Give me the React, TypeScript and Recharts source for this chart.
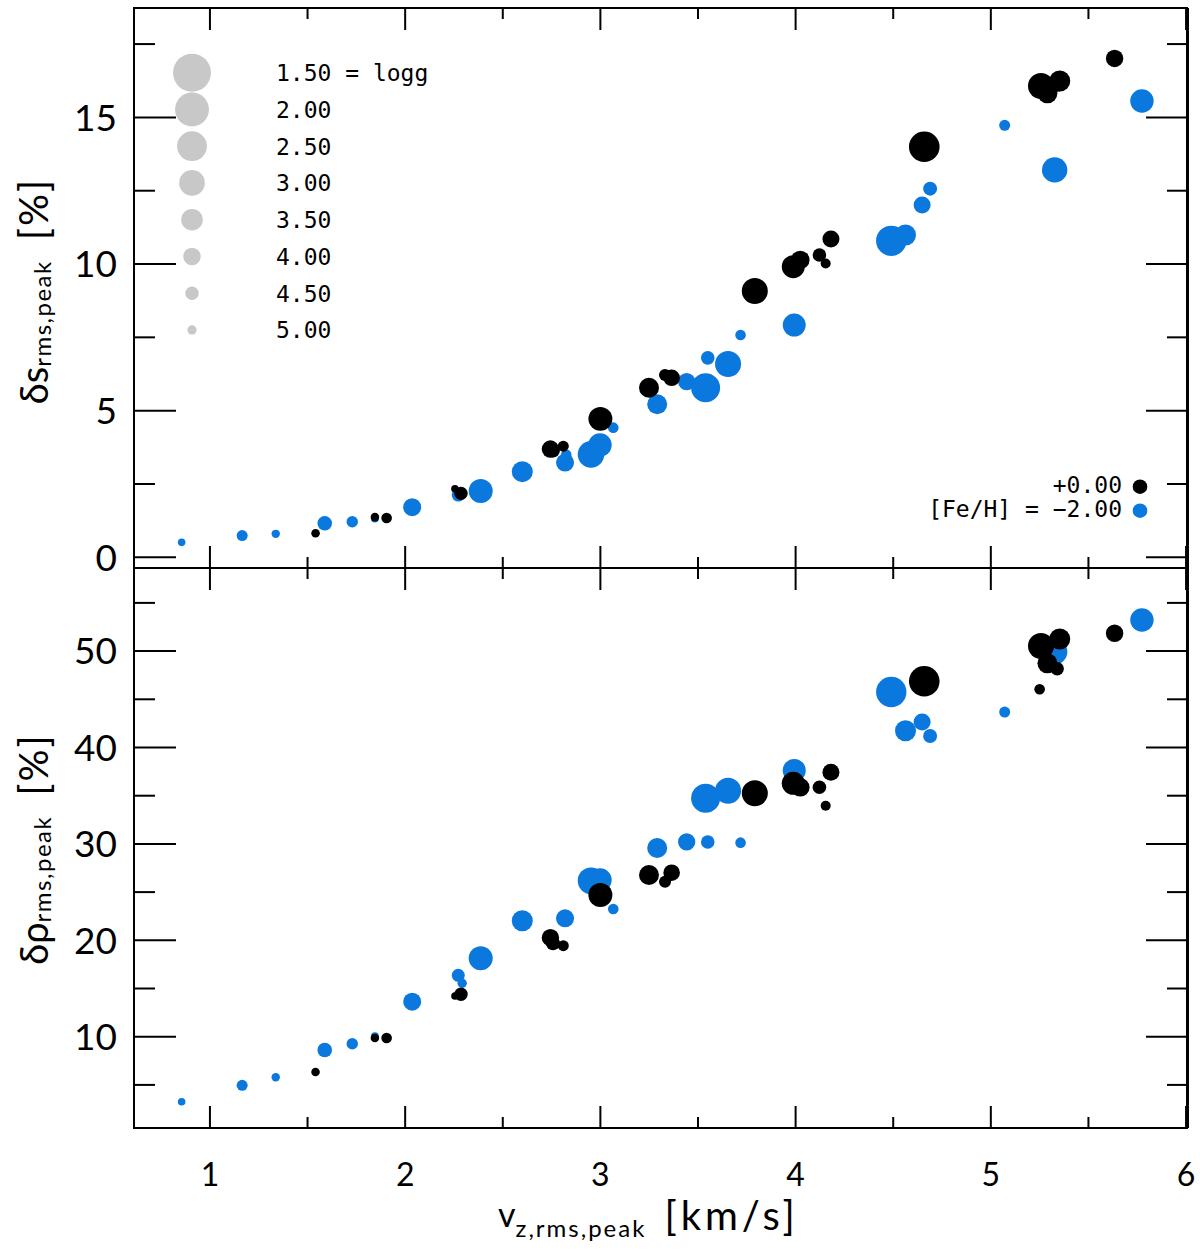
import React from 'react';
import { ScatterChart, Scatter, XAxis, YAxis } from 'recharts';

// ---- data: [Fe/H] = -2.00 (blue) ----
const vzBlue = [0.855, 1.165, 1.337, 1.588, 1.729, 1.845, 2.036, 2.272, 2.292, 2.387, 2.600, 2.819, 2.825, 2.952, 2.998, 3.066, 3.291, 3.442, 3.539, 3.550, 3.654, 3.718, 3.993, 4.490, 4.563, 4.648, 4.689, 5.071, 5.327, 5.774];
const dsBlue = [0.51, 0.74, 0.80, 1.16, 1.21, 1.32, 1.71, 2.12, 2.20, 2.26, 2.92, 3.23, 3.50, 3.51, 3.83, 4.42, 5.22, 5.99, 5.78, 6.80, 6.59, 7.58, 7.92, 10.79, 10.99, 12.01, 12.57, 14.73, 13.21, 15.56];
const drhoBlue = [3.26, 4.96, 5.79, 8.62, 9.27, 10.05, 13.63, 16.37, 15.54, 18.13, 22.03, 22.28, 22.2, 26.18, 26.25, 23.25, 29.57, 30.20, 34.73, 30.20, 35.52, 30.13, 37.62, 45.76, 41.74, 42.65, 41.19, 43.68, 49.94, 53.23];
const loggBlue = [5.21, 4.79, 5.11, 4.36, 4.74, 5.16, 3.94, 4.55, 4.99, 3.21, 3.57, 3.94, 4.84, 2.89, 3.28, 4.84, 3.70, 4.03, 2.60, 4.48, 2.96, 4.84, 3.33, 2.43, 3.57, 4.06, 4.43, 4.79, 3.04, 3.28];

// ---- data: [Fe/H] = +0.00 (black) ----
const vzBlack = [1.541, 1.845, 1.905, 2.255, 2.286, 2.744, 2.757, 2.810, 3.000, 3.249, 3.331, 3.365, 3.791, 3.988, 4.024, 4.122, 4.154, 4.181, 4.659, 5.257, 5.250, 5.290, 5.340, 5.353, 5.634];
const dsBlack = [0.82, 1.37, 1.34, 2.34, 2.18, 3.69, 3.64, 3.79, 4.72, 5.78, 6.22, 6.12, 9.08, 9.91, 10.14, 10.31, 10.02, 10.85, 14.00, 16.07, 15.95, 15.82, 16.10, 16.24, 17.01];
const drhoBlack = [6.34, 9.87, 9.87, 14.22, 14.40, 20.27, 19.69, 19.44, 24.70, 26.77, 26.08, 27.01, 35.25, 36.29, 35.87, 35.87, 33.96, 37.43, 46.87, 50.53, 46.04, 48.73, 48.17, 51.25, 51.85];
const loggBlack = [5.09, 5.09, 4.84, 5.21, 4.50, 4.01, 4.43, 4.79, 3.21, 3.70, 4.67, 4.11, 2.96, 3.33, 3.87, 4.48, 4.91, 4.06, 2.40, 2.96, 4.84, 3.70, 4.50, 3.57, 4.01];

// ---- ticks / legend ----
const xMajor = [1, 2, 3, 4, 5, 6];
const xMinor = [1.5, 2.5, 3.5, 4.5, 5.5];
const dsMajor = [0, 5, 10, 15];
const dsMinor = [2.5, 7.5, 12.5, 17.5];
const drhoMajor = [10, 20, 30, 40, 50];
const drhoMinor = [5, 15, 25, 35, 45, 55];
const loggLegend = [1.5, 2.0, 2.5, 3.0, 3.5, 4.0, 4.5, 5.0];
const fehLegend = ['+0.00', '[Fe/H] = \u22122.00'];

const BLUE = '#0a78dc';
const BLACK = '#000000';
const GRAY = '#c8c8c8';
const FONT = 'Lato, "DejaVu Sans", sans-serif';
const MONO = '"DejaVu Sans Mono", monospace';

const radiusOf = (g: number) => 25.15 - 4.1 * g;

const blueRows = vzBlue.map((vz, i) => ({ vz, ds: dsBlue[i], drho: drhoBlue[i], logg: loggBlue[i] }));
const blackRows = vzBlack.map((vz, i) => ({ vz, ds: dsBlack[i], drho: drhoBlack[i], logg: loggBlack[i] }));

const makeShape = (color: string) => (props: any) => {
  const { cx, cy, payload } = props;
  if (cx == null || cy == null) return <g />;
  return <circle cx={cx} cy={cy} r={radiusOf(payload.logg)} fill={color} />;
};
const blueShape = makeShape(BLUE);
const blackShape = makeShape(BLACK);

type Side = 'left' | 'right' | 'top' | 'bottom';

const makeTick = (side: Side, majors: number[], showLabel: boolean, fontSize: number) => (props: any) => {
  const { x, y, payload } = props;
  const v = payload.value;
  const major = majors.indexOf(v) >= 0;
  const horiz = side === 'top' || side === 'bottom';
  const len = horiz ? (major ? 22 : 11) : (major ? 42 : 21);
  let x2 = x, y2 = y;
  if (side === 'left') x2 = x + len;
  if (side === 'right') x2 = x - len;
  if (side === 'top') y2 = y + len;
  if (side === 'bottom') y2 = y - len;
  return (
    <g>
      <line x1={x} y1={y} x2={x2} y2={y2} stroke="#000" strokeWidth={2} />
      {showLabel && major && side === 'left' && (
        <text x={x - 17} y={y} dy="0.36em" textAnchor="end" fontFamily={FONT} fontSize={fontSize} fill="#000">
          {String(v)}
        </text>
      )}
      {showLabel && major && side === 'bottom' && (
        <text x={x} y={y + 58} textAnchor="middle" fontFamily={FONT} fontSize={fontSize} fill="#000">
          {String(v)}
        </text>
      )}
    </g>
  );
};

const axisLine = { stroke: '#000', strokeWidth: 2 };
const xDomain: [number, number] = [0.611, 6.01];

function Panel(props: {
  yKey: string;
  yDomain: [number, number];
  yMajor: number[];
  yMinor: number[];
  height: number;
  margin: any;
  xLabels: boolean;
}) {
  const { yKey, yDomain, yMajor, yMinor, height, margin, xLabels } = props;
  const xt = [...xMajor, ...xMinor];
  const yt = [...yMajor, ...yMinor];
  return (
    <ScatterChart width={1200} height={height} margin={margin}>
      <XAxis xAxisId="b" dataKey="vz" type="number" orientation="bottom" domain={xDomain} allowDataOverflow
        ticks={xt} interval={0} height={1} tickSize={0} tickMargin={0} tickLine={false} axisLine={axisLine}
        tick={makeTick('bottom', xMajor, xLabels, 32)} />
      <XAxis xAxisId="t" dataKey="vz" type="number" orientation="top" domain={xDomain} allowDataOverflow
        ticks={xt} interval={0} height={1} tickSize={0} tickMargin={0} tickLine={false} axisLine={axisLine}
        tick={makeTick('top', xMajor, false, 32)} />
      <YAxis yAxisId="l" dataKey={yKey} type="number" orientation="left" domain={yDomain} allowDataOverflow
        ticks={yt} interval={0} width={1} tickSize={0} tickMargin={0} tickLine={false} axisLine={axisLine}
        tick={makeTick('left', yMajor, true, 37)} />
      <YAxis yAxisId="r" dataKey={yKey} type="number" orientation="right" domain={yDomain} allowDataOverflow
        ticks={yt} interval={0} width={1} tickSize={0} tickMargin={0} tickLine={false} axisLine={axisLine}
        tick={makeTick('right', yMajor, false, 37)} />
      <Scatter data={blueRows} xAxisId="b" yAxisId="l" isAnimationActive={false} shape={blueShape} />
      <Scatter data={blackRows} xAxisId="b" yAxisId="l" isAnimationActive={false} shape={blackShape} />
    </ScatterChart>
  );
}

export default function App() {
  return (
    <div style={{ position: 'absolute', left: 0, top: 0, width: 1200, height: 1250, background: '#fff' }}>
      <div style={{ position: 'absolute', left: 0, top: 0 }}>
        <Panel yKey="ds" yDomain={[-0.365, 18.73]} yMajor={dsMajor} yMinor={dsMinor} height={580}
          margin={{ top: 7, right: 11, bottom: 11, left: 133 }} xLabels={false} />
      </div>
      <div style={{ position: 'absolute', left: 0, top: 560 }}>
        <Panel yKey="drho" yDomain={[0.53, 58.62]} yMajor={drhoMajor} yMinor={drhoMinor} height={690}
          margin={{ top: 7, right: 11, bottom: 121, left: 133 }} xLabels={true} />
      </div>
      <svg width={1200} height={1250} style={{ position: 'absolute', left: 0, top: 0, pointerEvents: 'none' }}>
        {/* panel frames */}
        <rect x={134} y={8} width={1053} height={560} fill="none" stroke="#000" strokeWidth={2} />
        <rect x={134} y={568} width={1053} height={560} fill="none" stroke="#000" strokeWidth={2} />
        {/* logg size legend */}
        {loggLegend.map((g, i) => (
          <g key={g}>
            <circle cx={192} cy={72.7 + i * 36.75} r={radiusOf(g)} fill={GRAY} />
            <text x={276} y={81.2 + i * 36.75} fontFamily={MONO} fontSize={23} fill="#000">
              {g.toFixed(2) + (i === 0 ? ' = logg' : '')}
            </text>
          </g>
        ))}
        {/* [Fe/H] legend */}
        <text x={1122} y={493} textAnchor="end" fontFamily={MONO} fontSize={23} fill="#000">{fehLegend[0]}</text>
        <circle cx={1140} cy={486.7} r={7.3} fill={BLACK} />
        <text x={1122} y={517} textAnchor="end" fontFamily={MONO} fontSize={23} fill="#000">{fehLegend[1]}</text>
        <circle cx={1140} cy={510.7} r={7.3} fill={BLUE} />
        {/* y labels */}
        <text transform="translate(48,291) rotate(-90)" textAnchor="middle" fontFamily={FONT} fill="#000">
          <tspan fontSize={38}>δs</tspan>
          <tspan fontSize={24} dy={3} letterSpacing={1.5}>rms,peak</tspan>
          <tspan fontSize={40} dy={-3} dx={20} letterSpacing={2}>[%]</tspan>
        </text>
        <text transform="translate(48,849) rotate(-90)" textAnchor="middle" fontFamily={FONT} fill="#000">
          <tspan fontSize={38}>δρ</tspan>
          <tspan fontSize={24} dy={3} letterSpacing={1.5}>rms,peak</tspan>
          <tspan fontSize={40} dy={-3} dx={20} letterSpacing={2}>[%]</tspan>
        </text>
        {/* x label */}
        <text x={498} y={1227} fontFamily={FONT} fill="#000">
          <tspan fontSize={34}>v</tspan>
          <tspan fontSize={24} dy={10} letterSpacing={2}>z,rms,peak</tspan>
          <tspan fontSize={40} dy={-7} dx={18} letterSpacing={4}>[km/s]</tspan>
        </text>
      </svg>
    </div>
  );
}
